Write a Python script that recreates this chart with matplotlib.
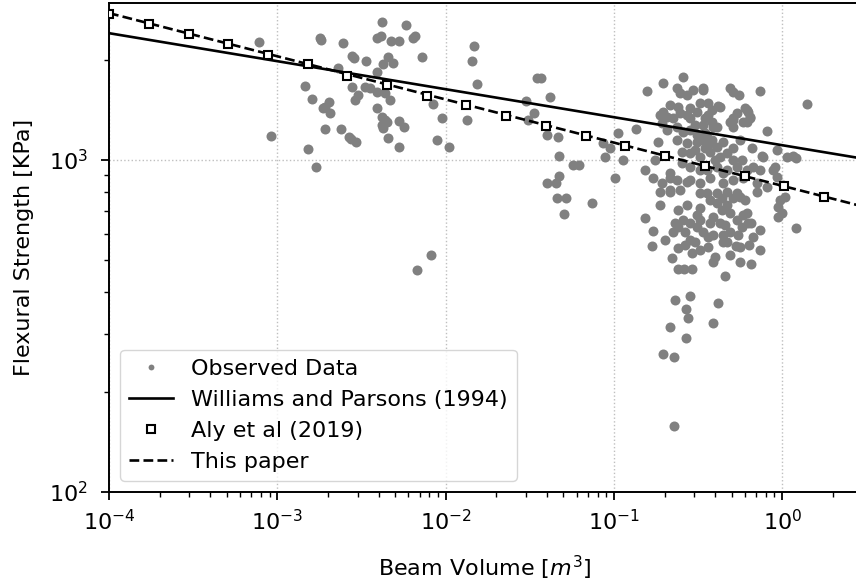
import matplotlib as mpl
mpl.use('Agg')
import matplotlib.pyplot as plot
import matplotlib.ticker as ticker

# observed beams: volume [m^3], flexural strength [KPa]
# left group (small beams)
OBS_VOLUME_SMALL = [7.8e-4, 9.2e-4, 1.46e-3, 1.61e-3, 1.52e-3, 1.70e-3, 1.79e-3, 1.82e-3, 2.46e-3, 4.19e-3,
                    5.82e-3, 3.91e-3, 4.13e-3, 4.74e-3, 5.29e-3, 6.40e-3, 6.58e-3, 7.25e-3, 1.48e-2, 1.435e-2,
                    1.54e-2, 2.86e-3, 2.78e-3, 3.37e-3, 4.54e-3, 4.87e-3, 4.25e-3, 3.91e-3, 2.29e-3, 2.03e-3,
                    1.92e-3, 1.87e-3, 2.06e-3, 2.78e-3, 3.02e-3, 2.90e-3, 3.32e-3, 3.55e-3, 3.91e-3, 4.37e-3,
                    4.67e-3, 3.91e-3, 4.19e-3, 4.37e-3, 4.19e-3, 4.49e-3, 4.25e-3, 5.29e-3, 5.66e-3, 4.54e-3,
                    5.29e-3, 8.42e-3, 9.52e-3, 8.89e-3, 1.05e-2, 1.34e-2, 1.92e-3, 2.39e-3, 2.67e-3, 2.93e-3,
                    2.74e-3, 6.76e-3, 8.19e-3]
OBS_STRENGTH_SMALL = [2270, 1180, 1670, 1530, 1080, 953, 2330, 2300, 2250, 2600,
                      2550, 2330, 2360, 2280, 2280, 2330, 2360, 2040, 2200, 1990,
                      1690, 2030, 2060, 1990, 2040, 1960, 1950, 1840, 1890, 1500,
                      1440, 1430, 1385, 1660, 1570, 1520, 1660, 1650, 1600, 1590,
                      1520, 1430, 1350, 1320, 1275, 1300, 1250, 1310, 1260, 1165,
                      1095, 1475, 1340, 1150, 1095, 1320, 1240, 1240, 1173, 1133,
                      1157, 466, 518]

# middle group
OBS_VOLUME_MID = [3.49e-2, 3.69e-2, 4.17e-2, 3.0e-2, 3.35e-2, 3.09e-2, 4.0e-2, 4.66e-2, 4.72e-2, 5.71e-2,
                  6.2e-2, 4.72e-2, 4.0e-2, 4.53e-2, 4.59e-2, 5.19e-2, 5.05e-2, 7.43e-2]
OBS_STRENGTH_MID = [1766, 1766, 1550, 1505, 1385, 1320, 1190, 1173, 1028, 966,
                    966, 895, 852, 852, 768, 768, 688, 742]

# large beams, upper part of the cluster
OBS_VOLUME_LARGE = [0.157, 0.196, 0.258, 0.237, 0.247, 0.272, 0.295, 0.338, 0.490, 0.511,
                    0.554, 0.739, 1.40, 0.325, 0.362, 0.415, 0.240, 0.196, 0.188, 0.247,
                    0.272, 0.283, 0.225, 0.362, 0.538, 0.601, 0.627, 0.644, 0.618, 0.490,
                    0.511, 0.338, 0.383, 0.410, 0.193, 0.207, 0.237, 0.258, 0.283, 0.311,
                    0.813, 0.106, 0.135, 0.183, 0.086, 0.0949, 0.0885, 0.113, 0.1015, 0.171,
                    0.193, 0.216, 0.237, 0.272, 0.216, 0.188, 0.237, 0.272, 0.311, 0.338,
                    0.372, 0.410, 0.445, 0.254, 0.283, 0.325, 0.372, 0.427, 0.470, 0.511,
                    0.577, 0.254, 0.283, 0.358, 0.410, 0.445, 0.538, 0.618, 0.671, 0.768,
                    0.883, 0.933, 0.216, 0.283, 0.325, 0.372, 0.445, 0.511, 0.585, 0.710,
                    0.813, 1.01, 0.325, 0.410, 0.470, 0.562, 1.07, 1.16, 1.21, 0.907,
                    0.710, 0.969, 0.942, 1.00, 1.04, 1.21, 0.618, 0.644, 0.511, 0.585,
                    0.759, 0.427, 0.388, 0.358, 0.338, 0.207,
                    0.283, 0.311, 0.347, 0.383, 0.303, 0.347, 0.383, 0.303, 0.347, 0.399,
                    0.325, 0.470, 0.562, 0.511, 0.660, 0.739, 0.1755, 0.153, 0.216, 0.511,
                    0.933]
OBS_STRENGTH_LARGE = [1614, 1706, 1778, 1648, 1592, 1570, 1625, 1648, 1648, 1603,
                      1570, 1614, 1475, 1485, 1485, 1455, 1444, 1395, 1366, 1385,
                      1366, 1338, 1338, 1366, 1385, 1434, 1395, 1338, 1302, 1302,
                      1338, 1275, 1302, 1257, 1292, 1231, 1257, 1214, 1231, 1190,
                      1223, 1206, 1240, 1133, 1125, 1087, 1021, 1000, 883, 883,
                      852, 883, 870, 858, 812, 801, 1149, 1125, 1133, 1149,
                      1125, 1095, 1133, 1057, 1050, 1021, 1057, 1021, 1050, 1000,
                      1000, 979, 953, 933, 953, 914, 953, 933, 953, 1021,
                      933, 889, 914, 870, 852, 883, 852, 870, 883, 852,
                      829, 841, 795, 795, 801, 774, 1021, 1028, 1014, 953,
                      801, 758, 722, 692, 774, 624, 1414, 1347, 1320, 1302,
                      1028, 1444, 1257, 1173, 1625, 1352,
                      1434, 1395, 1338, 1414, 1275, 1206, 1149, 1072, 1087, 1000,
                      933, 933, 1149, 1087, 1087, 933, 1000, 933, 1465, 1257,
                      1072]

# large beams, lower part of the cluster
OBS_VOLUME_LOW = [0.153, 0.171, 0.168, 0.221, 0.240, 0.261, 0.291, 0.457, 0.653, 0.671,
                  0.634, 0.653, 0.618, 0.531, 0.399, 0.388, 0.291, 0.240, 0.265, 0.303,
                  0.362, 0.445, 0.470, 0.546, 0.225, 0.231, 0.240, 0.272, 0.325, 0.283,
                  0.311, 0.338, 0.362, 0.388, 0.439, 0.490, 0.538, 0.577, 0.372, 0.427,
                  0.470, 0.511, 0.538, 0.439, 0.410, 0.372, 0.358, 0.216, 0.247, 0.231,
                  0.283, 0.268, 0.275, 0.216, 0.415, 0.388, 0.268, 0.196, 0.228, 0.228,
                  0.585, 0.627, 0.490, 0.445, 0.388, 0.325, 0.311, 0.258, 0.240, 0.562,
                  0.601, 0.283, 0.325, 0.490, 0.562, 0.739, 0.739, 0.457, 0.265, 0.201,
                  0.188, 0.942]
OBS_STRENGTH_LOW = [669, 611, 551, 507, 470, 470, 470, 447, 486, 586,
                    555, 646, 692, 551, 510, 493, 525, 543, 555, 566,
                    547, 566, 566, 594, 607, 646, 707, 732, 717, 646,
                    628, 607, 586, 673, 707, 692, 660, 628, 646, 646,
                    732, 768, 795, 768, 742, 758, 795, 801, 812, 379,
                    389, 356, 334, 314, 371, 323, 291, 260, 255, 158,
                    683, 646, 607, 594, 594, 660, 683, 660, 628, 547,
                    758, 574, 536, 518, 493, 536, 616, 636, 607, 574,
                    732, 673]

# Williams and Parsons (1994), end points of the fitted line
WP_VOLUME = [1e-4, 3.0]
WP_STRENGTH = [2410, 1010]

# Aly et al (2019) markers
ALY_VOLUME = [1.0e-4, 1.72e-4, 2.97e-4, 5.11e-4, 8.80e-4, 1.52e-3, 2.61e-3, 4.50e-3, 7.74e-3, 1.33e-2,
              2.30e-2, 3.95e-2, 6.81e-2, 0.117, 0.202, 0.348, 0.599, 1.03, 1.78]
ALY_STRENGTH = [2754, 2575, 2396, 2240, 2074, 1940, 1795, 1688, 1562, 1466,
                1358, 1270, 1181, 1104, 1026, 960, 892, 835, 773]

# this paper, end points of the fitted line
TP_VOLUME = [1e-4, 3.0]
TP_STRENGTH = [2770, 725]

X_LABEL = "Beam Volume [$m^3$]"
Y_LABEL = "Flexural Strength [KPa]"
FONT_SIZE = 16
DOT_COLOR = 'gray'

#========================================================================================
mpl.rcParams['font.size'] = FONT_SIZE
mpl.rcParams['axes.linewidth'] = 1.4

fig = plot.figure(figsize=(8.56, 5.82), dpi=100)
ax = fig.add_axes([109 / 856, 90 / 582, 751 / 856, 489 / 582])

obs_v = OBS_VOLUME_SMALL + OBS_VOLUME_MID + OBS_VOLUME_LARGE + OBS_VOLUME_LOW
obs_s = OBS_STRENGTH_SMALL + OBS_STRENGTH_MID + OBS_STRENGTH_LARGE + OBS_STRENGTH_LOW

ax.plot(obs_v, obs_s, 'o', color=DOT_COLOR, ms=7.2, mec='none', label='Observed Data', zorder=2)
ax.plot(WP_VOLUME, WP_STRENGTH, '-', color='black', lw=1.9, label='Williams and Parsons (1994)', zorder=3)
ax.plot(ALY_VOLUME, ALY_STRENGTH, 's', ls='none', mfc='white', mec='black', mew=1.5, ms=6,
        label='Aly et al (2019)', zorder=5)
ax.plot(TP_VOLUME, TP_STRENGTH, '--', color='black', lw=1.9, label='This paper', zorder=4)

ax.set_xscale('log')
ax.set_yscale('log')
ax.set_xlim(1e-4, 2.90)
ax.set_ylim(100, 2971)

ax.yaxis.set_minor_formatter(ticker.NullFormatter())
ax.xaxis.set_minor_formatter(ticker.NullFormatter())
ax.tick_params(which='major', length=6, width=1.3)
ax.tick_params(which='minor', length=3.5, width=1.0)
ax.tick_params(axis='x', which='major', pad=6)
ax.tick_params(axis='y', which='major', pad=9)

ax.grid(True, which='major', linestyle=':', color='0.75', lw=1)
ax.set_axisbelow(True)

ax.set_xlabel(X_LABEL, labelpad=14)
ax.set_ylabel(Y_LABEL, labelpad=11)

leg = ax.legend(loc='lower left')
leg.legend_handles[0].set_markersize(4.2)

plot.savefig('out.png', dpi=100)
